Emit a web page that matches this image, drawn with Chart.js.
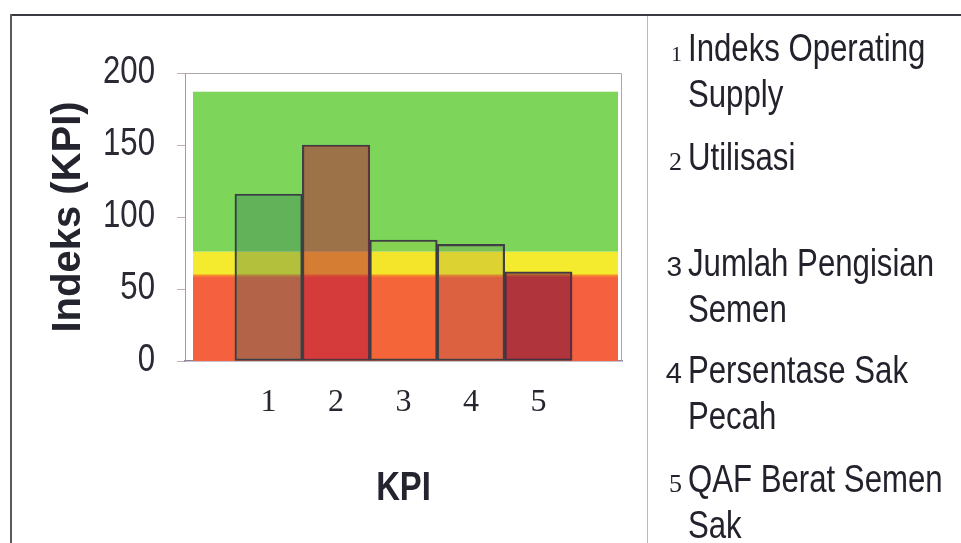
<!DOCTYPE html>
<html>
<head>
<meta charset="utf-8">
<script src="https://cdn.jsdelivr.net/npm/chart.js@4.4.1/dist/chart.umd.min.js"></script>
<style>
  html, body { margin: 0; padding: 0; background: #ffffff; }
  body { width: 961px; height: 543px; position: relative; overflow: hidden;
         font-family: 'Liberation Sans', Arial, sans-serif; color: #22222c; }
  #kpiChart { position: absolute; left: 0; top: 0; }
  .frame-top { position: absolute; left: 10px; top: 14px; width: 951px; height: 2px; background: #3a3a40; }
  .frame-left { position: absolute; left: 10px; top: 14px; width: 2px; height: 529px; background: #5a5a60; }
  .divider { position: absolute; left: 647px; top: 16px; width: 1px; height: 527px; background: #b9b9bd; }
  .item { position: absolute; left: 640px; display: flex; align-items: baseline; }
  .num { width: 42px; margin-right: 6px; text-align: right; line-height: 46px; flex: none; }
  .num.serif { font-family: 'Liberation Serif', 'Times New Roman', serif; }
  .txt { transform: scaleX(0.82); transform-origin: 0 0; }
  .line { font-size: 38px; line-height: 46px; white-space: nowrap; }
</style>
</head>
<body>
<div class="frame-top"></div>
<div class="frame-left"></div>
<div class="divider"></div>
<canvas id="kpiChart" width="961" height="543"></canvas>
<div id="kpiList"></div>
<script>
// KPI positions on the category axis and their index values
const kpiPositions = [1, 2, 3, 4, 5];
const kpiLabels = ['1', '2', '3', '4', '5'];
const kpiValues = [116, 150, 84, 81, 62];

// value axis ticks
const yTickValues = [0, 50, 100, 150, 200];

// performance zones: red (poor), yellow (warning), green (good)
const zoneLimits = [0, 59, 76, 187];

// KPI names shown in the side list (one entry per wrapped line)
const kpiNames = [
  ['Indeks Operating', 'Supply'],
  ['Utilisasi'],
  ['Jumlah Pengisian', 'Semen'],
  ['Persentase Sak', 'Pecah'],
  ['QAF Berat Semen', 'Sak']
];

// styling
const sansFamily = "'Liberation Sans', Arial, sans-serif";
const narrowScale = 0.82;
const zoneColors = ['#f5603f', '#f4ea2e', '#7dd65a'];
const barFills = [
  'rgba(45, 105, 90, 0.33)',
  'rgba(185, 25, 55, 0.52)',
  'rgba(255, 170, 0, 0.07)',
  'rgba(110, 105, 70, 0.18)',
  'rgba(90, 0, 55, 0.45)'
];
const itemTops = [25, 134, 240, 347, 456];
const numStyles = [
  { serif: true, size: 22 },
  { serif: true, size: 26 },
  { serif: false, size: 28 },
  { serif: false, size: 29 },
  { serif: true, size: 26 }
];

// side list of KPI names
const list = document.getElementById('kpiList');
kpiNames.forEach((lines, i) => {
  const item = document.createElement('div');
  item.className = 'item';
  item.style.top = itemTops[i] + 'px';
  const num = document.createElement('div');
  num.className = 'num' + (numStyles[i].serif ? ' serif' : '');
  num.style.fontSize = numStyles[i].size + 'px';
  num.textContent = kpiLabels[i];
  item.appendChild(num);
  const txt = document.createElement('div');
  txt.className = 'txt';
  lines.forEach((text) => {
    const line = document.createElement('div');
    line.className = 'line';
    line.textContent = text;
    txt.appendChild(line);
  });
  item.appendChild(txt);
  list.appendChild(item);
});

// colored zones behind the bars and the plot frame
const zonePlugin = {
  id: 'zones',
  beforeDatasetsDraw(chart) {
    const { ctx, chartArea: a, scales: { y } } = chart;
    const x0 = a.left + 8, x1 = a.right - 4;
    ctx.save();
    ctx.strokeStyle = '#a9a6ae';
    ctx.lineWidth = 1;
    ctx.beginPath();
    ctx.moveTo(a.left, a.top + 0.5);
    ctx.lineTo(a.right - 0.5, a.top + 0.5);
    ctx.lineTo(a.right - 0.5, a.bottom);
    ctx.stroke();
    for (let i = 0; i < zoneColors.length; i++) {
      const top = y.getPixelForValue(zoneLimits[i + 1]);
      const bottom = y.getPixelForValue(zoneLimits[i]);
      ctx.fillStyle = zoneColors[i];
      ctx.fillRect(x0, top, x1 - x0, bottom - top);
    }
    // thin orange seam between red and yellow
    const seam = y.getPixelForValue(zoneLimits[1]);
    ctx.fillStyle = '#f58a2c';
    ctx.fillRect(x0, seam - 1.5, x1 - x0, 2);
    ctx.restore();
  }
};

// condensed value-axis labels, axis titles
const narrowTextPlugin = {
  id: 'narrowText',
  afterDraw(chart) {
    const { ctx, chartArea: a, scales: { x, y } } = chart;
    ctx.save();
    ctx.fillStyle = '#2a2a34';
    ctx.font = '38px ' + sansFamily;
    ctx.textAlign = 'right';
    ctx.textBaseline = 'middle';
    y.ticks.forEach((t) => {
      ctx.save();
      ctx.translate(a.left - 30, y.getPixelForValue(t.value));
      ctx.scale(narrowScale, 1);
      ctx.fillText(t.label, 0, 0);
      ctx.restore();
    });
    ctx.fillStyle = '#24242e';
    // category-axis title
    ctx.save();
    ctx.font = 'bold 40px ' + sansFamily;
    ctx.textAlign = 'center';
    ctx.textBaseline = 'alphabetic';
    ctx.translate((x.left + x.right) / 2, x.bottom - 43);
    ctx.scale(narrowScale, 1);
    ctx.fillText('KPI', 0, 0);
    ctx.restore();
    // value-axis title, reading upwards
    ctx.save();
    ctx.font = 'bold 40px ' + sansFamily;
    ctx.textAlign = 'center';
    ctx.textBaseline = 'alphabetic';
    ctx.translate(y.left + 70, (y.top + y.bottom) / 2);
    ctx.rotate(-Math.PI / 2);
    ctx.fillText('Indeks (KPI)', 0, 0);
    ctx.restore();
    ctx.restore();
  }
};

new Chart(document.getElementById('kpiChart'), {
  type: 'bar',
  data: {
    datasets: [{
      data: kpiPositions.map((x, i) => ({ x: x, y: kpiValues[i] })),
      backgroundColor: barFills,
      borderColor: '#3d3d44',
      borderWidth: 1.5,
      borderSkipped: false,
      barPercentage: 1,
      categoryPercentage: 1
    }]
  },
  options: {
    responsive: false,
    animation: false,
    events: [],
    layout: { padding: { left: 10, right: 339, top: 73, bottom: 0 } },
    plugins: { legend: { display: false }, tooltip: { enabled: false } },
    scales: {
      x: {
        type: 'linear',
        min: -0.24,
        max: 6.24,
        offset: false,
        afterBuildTicks(scale) { scale.ticks = kpiPositions.map(v => ({ value: v })); },
        afterFit(scale) { scale.height = 543 - 361; },
        grid: { display: true, drawOnChartArea: false, drawTicks: false, offset: false },
        border: { display: true, color: '#8c8496', width: 1.5 },
        ticks: {
          padding: 22,
          color: '#26262e',
          font: { family: "'Liberation Serif', 'Times New Roman', serif", size: 32 },
          callback: (v) => kpiLabels[kpiPositions.indexOf(v)]
        },
        title: { display: false }
      },
      y: {
        min: 0,
        max: 200,
        afterBuildTicks(scale) { scale.ticks = yTickValues.map(v => ({ value: v })); },
        afterFit(scale) { scale.width = 185 - 10; },
        grid: { drawOnChartArea: false, drawTicks: true, tickLength: 8, color: '#c8a8b8' },
        border: { display: true, color: '#9f9ca6', width: 1 },
        ticks: { display: false },
        title: { display: false }
      }
    }
  },
  plugins: [zonePlugin, narrowTextPlugin]
});
</script>
</body>
</html>
